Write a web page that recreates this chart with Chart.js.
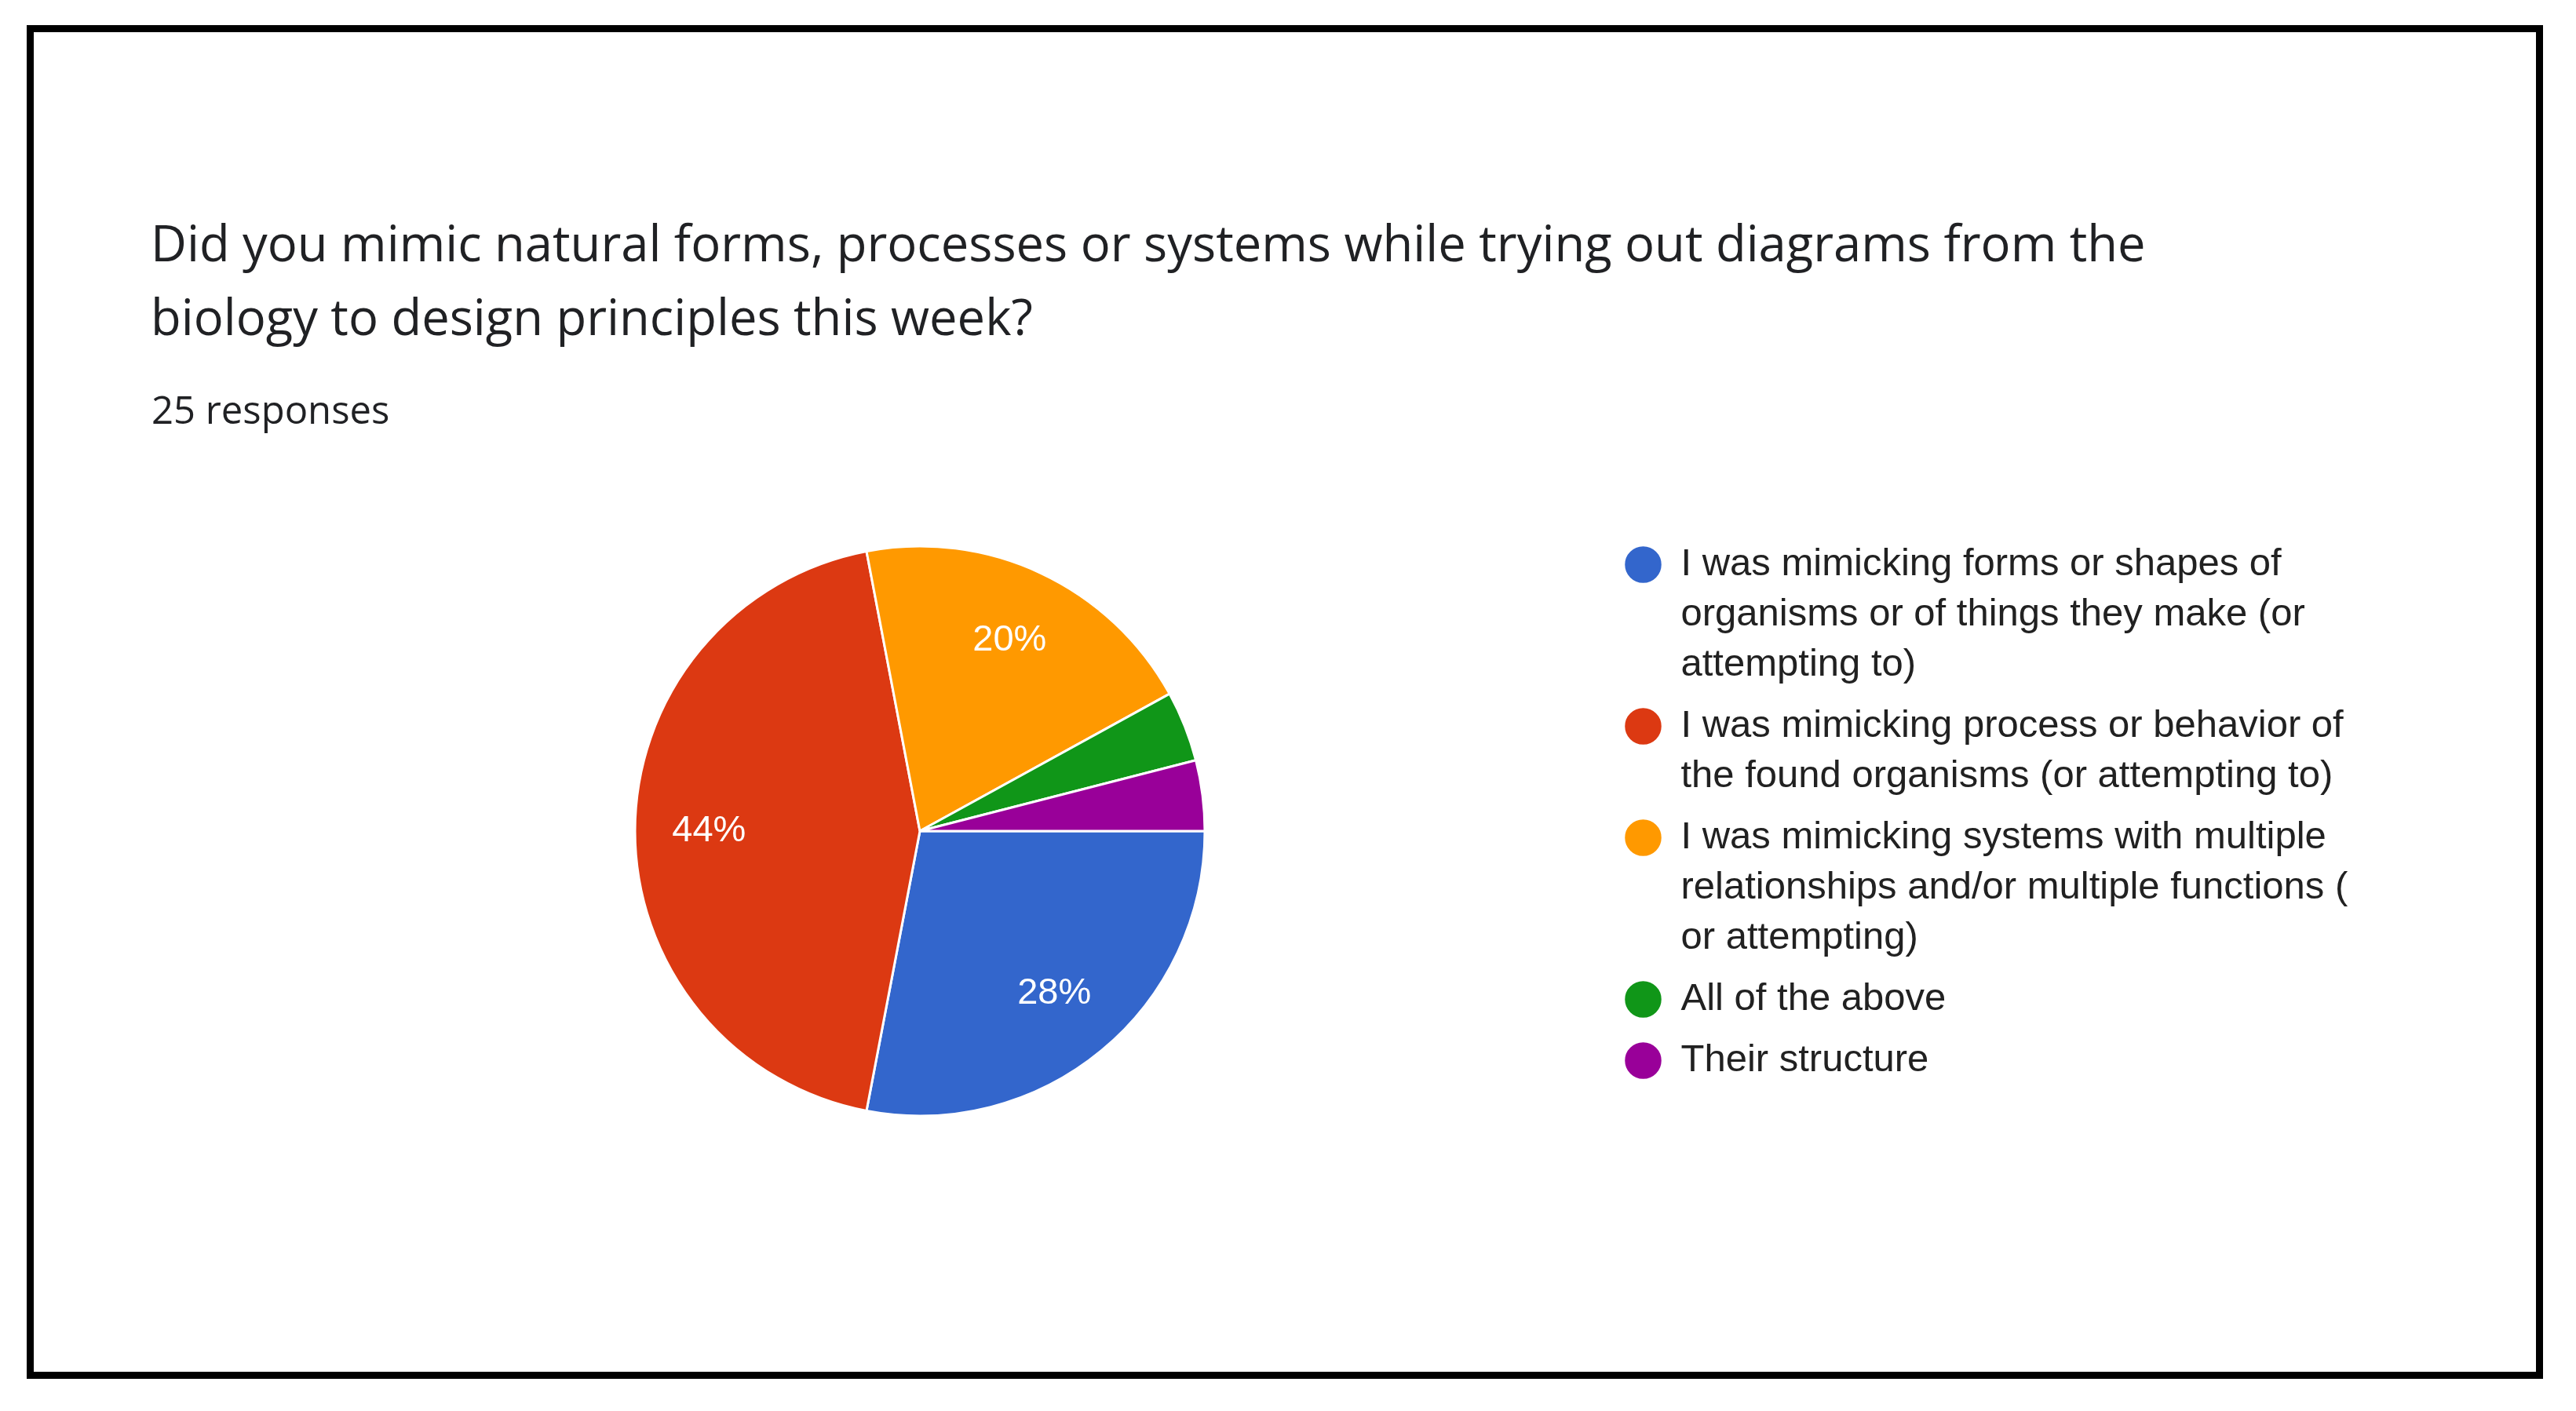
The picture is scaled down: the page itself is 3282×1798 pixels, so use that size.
<!DOCTYPE html>
<html lang="en">
<head>
  <meta charset="UTF-8">
  <title>Biology to design principles - survey pie</title>
  <script src="https://cdn.jsdelivr.net/npm/chart.js"></script>
  <style>
    body { margin: 0; background: #fff; width: 3282px; height: 1798px; position: relative; overflow: hidden; }
    .frame { position: absolute; left: 34px; top: 32px; width: 3206px; height: 1725px; border: 9px solid #000; box-sizing: border-box; }
    .question { position: absolute; left: 192px; top: 262px; margin: 0; font-family: "Open Sans", sans-serif; font-weight: 400; font-size: 63.3px; line-height: 94px; color: #202124; white-space: nowrap; }
    .count { position: absolute; left: 193px; top: 489px; font-family: "Open Sans", sans-serif; font-size: 49px; line-height: 64px; color: #202124; }
    .chart-box { position: absolute; left: 288px; top: 681px; width: 2812px; height: 756px; }
  </style>
</head>
<body>
  <div class="frame"></div>
  <h1 class="question">Did you mimic natural forms, processes or systems while trying out diagrams from the<br>biology to design principles this week?</h1>
  <div class="count">25 responses</div>

  <div class="chart-box"><canvas id="pie"></canvas></div>

  <script>
    // answers (legend text, already wrapped like the form does it)
    const answers = [
      ['I was mimicking forms or shapes of', 'organisms or of things they make (or', 'attempting to)'],
      ['I was mimicking process or behavior of', 'the found organisms (or attempting to)'],
      ['I was mimicking systems with multiple', 'relationships and/or multiple functions (', 'or attempting)'],
      ['All of the above'],
      ['Their structure']
    ];
    // number of responses per answer (25 total)
    const responses = [7, 11, 5, 1, 1];
    const sliceColors = ['#3366cc', '#dc3912', '#ff9900', '#109618', '#990099'];

    // white percentage text inside the bigger slices
    const sliceLabels = {
      id: 'sliceLabels',
      afterDatasetsDraw(chart) {
        const ctx = chart.ctx;
        const data = chart.data.datasets[0].data;
        const total = data.reduce((a, b) => a + b, 0);
        const meta = chart.getDatasetMeta(0);
        ctx.save();
        ctx.fillStyle = '#fff';
        ctx.font = '47px "Liberation Sans", Arial, sans-serif';
        ctx.textAlign = 'center';
        ctx.textBaseline = 'middle';
        meta.data.forEach((arc, i) => {
          const pct = Math.round(data[i] / total * 100);
          if (pct < 10) return;
          const p = arc.getProps(['x', 'y', 'startAngle', 'endAngle', 'outerRadius'], true);
          const mid = (p.startAngle + p.endAngle) / 2;
          const r = p.outerRadius * 0.74;
          ctx.fillText(pct + '%', p.x + Math.cos(mid) * r, p.y + Math.sin(mid) * r);
        });
        ctx.restore();
      }
    };

    // the legend clips to its own box, and its width is guessed from the
    // line with most characters, not the widest one - give it some room
    const legendRoom = {
      id: 'legendRoom',
      afterLayout(chart) {
        if (chart.legend) {
          chart.legend.right += 120;
          chart.legend.width += 120;
        }
      }
    };

    new Chart(document.getElementById('pie'), {
      type: 'pie',
      data: {
        labels: answers,
        datasets: [{
          data: responses,
          backgroundColor: sliceColors,
          borderColor: '#fff',
          borderWidth: 3,
          radius: 363
        }]
      },
      options: {
        responsive: true,
        maintainAspectRatio: false,
        animation: false,
        rotation: 90,
        layout: { padding: { right: 144 } },
        plugins: {
          tooltip: { enabled: false },
          legend: {
            position: 'right',
            align: 'start',
            maxWidth: 900,
            labels: {
              usePointStyle: true,
              pointStyle: 'circle',
              boxWidth: 47,
              boxHeight: 35,
              padding: 14,
              color: '#212121',
              font: { family: '"Liberation Sans", Arial, sans-serif', size: 49, lineHeight: '64px' }
            }
          }
        }
      },
      plugins: [sliceLabels, legendRoom]
    });
  </script>
</body>
</html>
